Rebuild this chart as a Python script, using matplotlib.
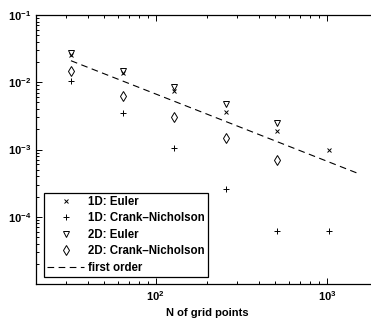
import matplotlib
matplotlib.use("Agg")
import matplotlib.pyplot as plt
import numpy as np
from matplotlib.ticker import LogLocator, FuncFormatter, NullFormatter

plt.rcParams['font.family'] = ['Liberation Sans', 'DejaVu Sans']
plt.rcParams['font.weight'] = 'bold'
plt.rcParams['mathtext.fontset'] = 'custom'
plt.rcParams['mathtext.rm'] = 'Liberation Sans:bold'
plt.rcParams['mathtext.bf'] = 'Liberation Sans:bold'
plt.rcParams['mathtext.it'] = 'Liberation Sans:bold'

N = [32, 64, 128, 256, 512, 1024]
euler_1d = [0.0254, 0.0137, 0.0074, 0.00361, 0.00188, 0.000985]
cn_1d = [0.0104, 0.00345, 0.00104, 0.000256, 6.2e-5, 6.2e-5]
N_2d = [32, 64, 128, 256, 512]
euler_2d = [0.0272, 0.0147, 0.0086, 0.00475, 0.00251]
cn_2d = [0.0149, 0.0062, 0.00301, 0.00147, 0.000698]
first_order_N = [32, 1500]
first_order_c = 0.0209 * 32

W, H = 371, 322
fig = plt.figure(figsize=(W / 100, H / 100), dpi=100)
left, right, top, bottom = 36, 378.6, 15, 284
ax = fig.add_axes([left / W, 1 - bottom / H, (right - left) / W, (bottom - top) / H])

ms_kw = dict(linestyle='none', color='black', markerfacecolor='none', markeredgewidth=0.7)
ax.plot(N, euler_1d, marker='x', markersize=3.5, label='1D: Euler', **ms_kw)
ax.plot(N, cn_1d, marker='+', markersize=5, label='1D: Crank\u2013Nicholson', **ms_kw)
ax.plot(N_2d, euler_2d, marker='v', markersize=5, label='2D: Euler', **ms_kw)
ax.plot(N_2d, cn_2d, marker='d', markersize=5.5, label='2D: Crank\u2013Nicholson', **ms_kw)
fo = np.array(first_order_N, dtype=float)
ax.plot(fo, first_order_c / fo, color='black', linestyle=(0, (6, 4)), linewidth=0.8,
        label='first order')

ax.set_xscale('log')
ax.set_yscale('log')
ax.set_xlim(20, 2000)
ax.set_ylim(1e-5, 1e-1)

def fmt(v, pos):
    e = int(np.round(np.log10(v)))
    return r'$10^{%d}$' % e

ax.xaxis.set_major_locator(LogLocator(base=10, numticks=10))
ax.yaxis.set_major_locator(LogLocator(base=10, numticks=10))
ax.xaxis.set_major_formatter(FuncFormatter(fmt))
ax.yaxis.set_major_formatter(FuncFormatter(fmt))
ax.yaxis.set_minor_formatter(NullFormatter())
ax.xaxis.set_minor_formatter(NullFormatter())
ax.set_yticks([1e-4, 1e-3, 1e-2, 1e-1])
ax.tick_params(which='both', direction='in', top=True, right=True, labelsize=8, width=0.7)
ax.tick_params(which='major', length=4)
ax.tick_params(which='minor', length=2)
for s in ax.spines.values():
    s.set_linewidth(0.9)

ax.set_xlabel('N of grid points', fontsize=8, fontweight='bold', labelpad=4)

axw = right - left
axh = bottom - top
leg = ax.legend(loc='lower left', bbox_to_anchor=(8 / axw, 7 / axh), borderaxespad=0,
                frameon=True, fancybox=False, framealpha=1, edgecolor='black',
                handlelength=3.2, handletextpad=0.3, labelspacing=0.38, borderpad=0.3,
                prop={'weight': 'bold', 'size': 8.3})
leg.get_frame().set_linewidth(0.9)

fig.savefig('out.png', dpi=100)
